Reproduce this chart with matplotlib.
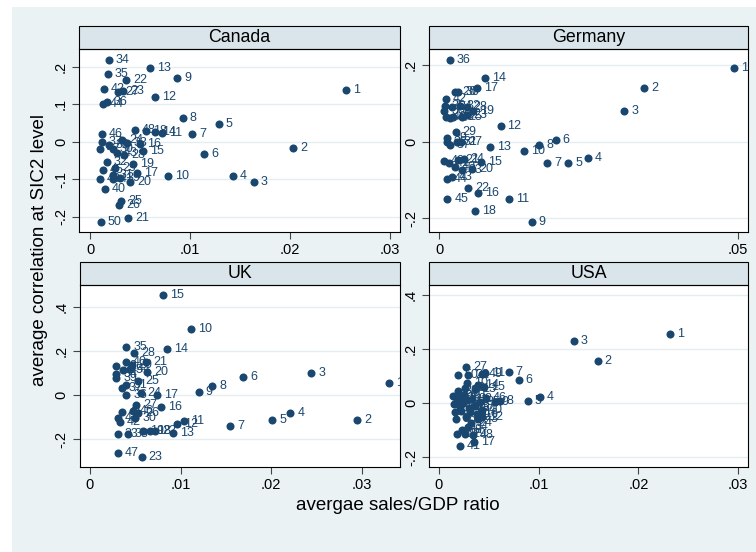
import matplotlib
matplotlib.use("Agg")
import matplotlib.pyplot as plt
from matplotlib.patches import Rectangle

plt.rcParams['font.family'] = ['Liberation Sans', 'DejaVu Sans']

# firm-level averages per country: sales/GDP ratio, correlation at SIC2 level, firm rank
canada_x = [0.0256, 0.0203, 0.0164, 0.0143, 0.0129, 0.0114, 0.0102, 0.0093, 0.0087, 0.0078,
            0.0072, 0.0065, 0.0060, 0.0065, 0.0053, 0.0050, 0.0047, 0.0056, 0.0043, 0.0040,
            0.0038, 0.0036, 0.0033, 0.0032, 0.0031, 0.0029, 0.0028, 0.0034, 0.0025, 0.0023,
            0.0023, 0.0017, 0.0037, 0.0019, 0.0018, 0.0017, 0.0012, 0.0019, 0.0030, 0.0015,
            0.0023, 0.0014, 0.0027, 0.0013, 0.0013, 0.0012, 0.0010, 0.0045, 0.0010, 0.0011]
canada_y = [0.138, -0.016, -0.107, -0.091, 0.046, -0.034, 0.020, 0.064, 0.171, -0.091,
            0.022, 0.119, 0.197, 0.025, -0.025, -0.007, -0.084, 0.029, -0.060, -0.107,
            -0.204, 0.164, 0.136, 0.005, -0.157, -0.169, 0.133, -0.036, -0.069, -0.020,
            -0.089, -0.055, -0.004, 0.218, 0.180, 0.107, 0.000, -0.009, -0.098, -0.126,
            -0.100, 0.140, -0.031, 0.100, -0.076, 0.020, -0.020, 0.031, -0.100, -0.213]
canada_id = list(range(1, 51))

germany_x = [0.0494, 0.0343, 0.0310, 0.0249, 0.0216, 0.0195, 0.0181, 0.0168, 0.0155, 0.0142,
             0.0117, 0.0103, 0.0086, 0.0077, 0.0070, 0.0066, 0.0063, 0.0060, 0.0057, 0.0055,
             0.0032, 0.0049, 0.0046, 0.0041, 0.0038, 0.0027, 0.0037, 0.0046, 0.0028, 0.0032,
             0.0030, 0.0035, 0.0038, 0.0021, 0.0010, 0.0018, 0.0018, 0.0013, 0.0013, 0.0026,
             0.0016, 0.0011, 0.0021, 0.0013, 0.0014, 0.0011, 0.0018, 0.0024, 0.0008, 0.0009]
germany_y = [0.193, 0.139, 0.081, -0.043, -0.055, 0.004, -0.056, -0.009, -0.209, -0.024,
             -0.151, 0.042, -0.015, 0.166, -0.052, -0.133, 0.141, -0.180, 0.081, -0.072,
             -0.047, -0.122, 0.070, -0.045, 0.065, 0.129, -0.002, 0.091, 0.025, 0.130,
             0.000, 0.093, -0.073, 0.091, 0.094, 0.213, -0.010, -0.002, 0.009, -0.065,
             -0.057, 0.111, -0.093, -0.098, -0.150, 0.065, 0.063, 0.065, -0.050, 0.080]
germany_id = list(range(1, 51))

uk_x = [0.0330, 0.0295, 0.0244, 0.0221, 0.0201, 0.0169, 0.0155, 0.0135, 0.0120, 0.0112,
        0.0104, 0.0096, 0.0092, 0.0085, 0.0081, 0.0078, 0.0074, 0.0066, 0.0059, 0.0063,
        0.0062, 0.0072, 0.0057, 0.0056, 0.0053, 0.0053, 0.0051, 0.0049, 0.0046, 0.0050,
        0.0040, 0.0029, 0.0031, 0.0029, 0.0040, 0.0040, 0.0035, 0.0042, 0.0029, 0.0040,
        0.0035, 0.0033, 0.0031, 0.0044, 0.0036, 0.0047, 0.0031]
uk_y = [0.053, -0.113, 0.098, -0.083, -0.113, 0.080, -0.139, 0.042, 0.015, 0.299,
        -0.116, -0.133, -0.173, 0.208, 0.453, -0.053, 0.000, -0.163, -0.163, 0.106,
        0.148, -0.163, -0.279, 0.008, 0.063, -0.083, -0.045, 0.189, 0.136, -0.103,
        0.046, 0.133, -0.176, 0.096, 0.219, 0.000, 0.030, -0.178, 0.076, 0.148,
        -0.076, -0.121, -0.105, 0.120, 0.112, -0.070, -0.264]
uk_id = list(range(1, 48))

usa_x = [0.0232, 0.0159, 0.0135, 0.0101, 0.0089, 0.0080, 0.0070, 0.0061, 0.0056, 0.0028,
         0.0046, 0.0043, 0.0036, 0.0039, 0.0045, 0.0038, 0.0035, 0.0030, 0.0018, 0.0025,
         0.0028, 0.0029, 0.0022, 0.0032, 0.0015, 0.0020, 0.0027, 0.0027, 0.0026, 0.0016,
         0.0024, 0.0033, 0.0019, 0.0029, 0.0041, 0.0017, 0.0036, 0.0023, 0.0014, 0.0043,
         0.0021, 0.0026, 0.0039, 0.0021, 0.0031, 0.0047, 0.0018, 0.0034, 0.0043, 0.0019]
usa_y = [0.257, 0.157, 0.228, 0.022, 0.009, 0.084, 0.114, 0.009, 0.002, 0.075,
         0.111, -0.050, 0.052, 0.068, 0.058, -0.040, -0.145, -0.020, -0.114, 0.030,
         0.010, 0.102, -0.030, -0.075, -0.005, 0.020, 0.132, -0.050, -0.115, -0.035,
         0.000, 0.015, 0.045, -0.090, 0.005, -0.060, -0.010, -0.100, 0.025, -0.025,
         -0.158, 0.055, -0.060, -0.015, -0.035, 0.020, 0.008, -0.120, 0.107, 0.105]
usa_id = list(range(1, 51))

panels = [
    # name, x, y, ids, xlim, ylim, xticks, yticks, axes rect
    ("Canada", canada_x, canada_y, canada_id, (-0.0011, 0.031), (-0.241, 0.247),
     [0, 0.01, 0.02, 0.03], [-0.2, -0.1, 0, 0.1, 0.2], [0.1045, 0.5797, 0.4246, 0.3315]),
    ("Germany", germany_x, germany_y, germany_id, (-0.00167, 0.0517), (-0.236, 0.242),
     [0, 0.05], [-0.2, 0, 0.2], [0.5675, 0.5797, 0.4220, 0.3315]),
    ("UK", uk_x, uk_y, uk_id, (-0.0011, 0.0342), (-0.327, 0.498),
     [0, 0.01, 0.02, 0.03], [-0.2, 0, 0.2, 0.4], [0.1058, 0.1534, 0.4233, 0.3303]),
    ("USA", usa_x, usa_y, usa_id, (-0.001, 0.031), (-0.238, 0.437),
     [0, 0.01, 0.02, 0.03], [-0.2, 0, 0.2, 0.4], [0.5675, 0.1534, 0.4220, 0.3303]),
]

NAVY = '#1a476f'
BG = '#eaf2f3'
STRIP = '#d9e5ea'


def stata_fmt(v):
    s = f"{v:g}"
    if s.startswith("0."):
        s = s[1:]
    elif s.startswith("-0."):
        s = "-" + s[2:]
    return s


fig = plt.figure(figsize=(7.56, 5.52), dpi=100)
fig.patches.append(Rectangle((12 / 756, 0), 1, 1 - 7 / 552, transform=fig.transFigure,
                             facecolor=BG, edgecolor='none', zorder=-10))

for name, xs, ys, ids, xlim, ylim, xt, yt, rect in panels:
    ax = fig.add_axes(rect)
    ax.set_facecolor('white')
    ax.set_xlim(*xlim)
    ax.set_ylim(*ylim)
    ax.set_xticks(xt)
    ax.set_xticklabels([stata_fmt(v) for v in xt], fontsize=10.5)
    ax.set_yticks(yt)
    ax.set_yticklabels([stata_fmt(v) for v in yt], fontsize=10.5, rotation=90, va='center')
    ax.tick_params(direction='out', length=5, width=0.8, color='#444444', pad=3)
    ax.yaxis.grid(True, color='#e4edf0', lw=1.0)
    ax.set_axisbelow(True)
    for sp in ax.spines.values():
        sp.set_color('black')
        sp.set_linewidth(0.8)

    ax.plot(xs, ys, 'o', color=NAVY, markersize=5.8, markeredgewidth=0, zorder=3)
    for x, y, i in zip(xs, ys, ids):
        ax.annotate(str(i), (x, y), xytext=(5, 0), textcoords='offset points',
                    ha='left', va='center', fontsize=9, color=NAVY, zorder=4,
                    clip_on=True)

    # panel title strip
    h = 23 / (rect[3] * 552)
    ax.add_patch(Rectangle((0, 1), 1, h, transform=ax.transAxes, clip_on=False,
                           facecolor=STRIP, edgecolor='black', lw=0.8))
    ax.text(0.5, 1 + h / 2, name, transform=ax.transAxes, ha='center', va='center',
            fontsize=12.8)

fig.text(40 / 756, 1 - 250 / 552, 'average correlation at SIC2 level', rotation=90,
         ha='center', va='center', fontsize=13.5)
fig.text(398 / 756, 1 - 505 / 552, 'avergae sales/GDP ratio', ha='center', va='center',
         fontsize=13.5)

fig.savefig('out.png', dpi=100)
